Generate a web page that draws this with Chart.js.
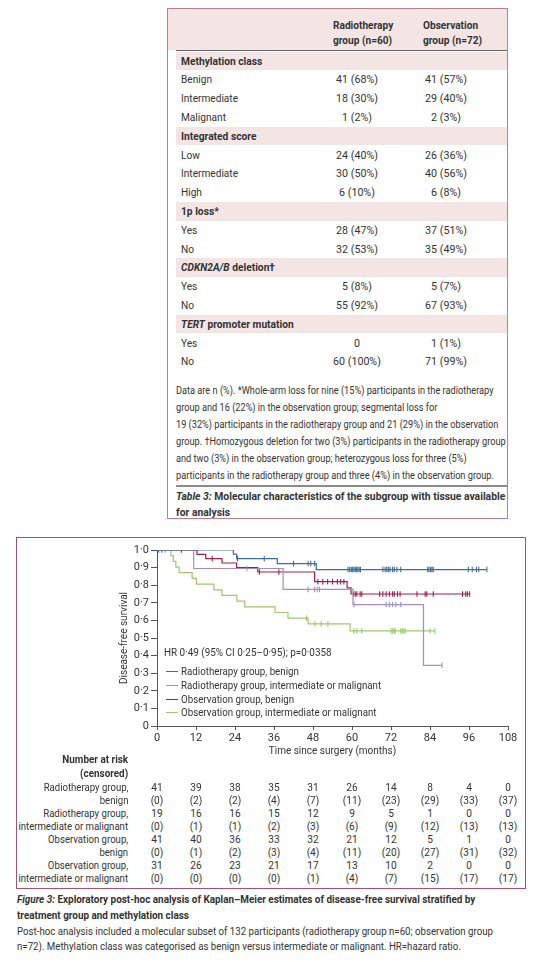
<!DOCTYPE html>
<html>
<head>
<meta charset="utf-8">
<script src="https://cdn.jsdelivr.net/npm/chart.js@4.4.1/dist/chart.umd.min.js"></script>
<style>
  body { margin: 0; background: #fff; }
  #page { position: relative; width: 539px; height: 962px; overflow: hidden;
    font-family: 'Roboto', 'Liberation Sans', sans-serif; color: #333; }
  .abs { position: absolute; white-space: nowrap; }
  .box1 { position: absolute; left: 167px; top: 8px; width: 341px; height: 511px; border: 1px solid #c27c8c; box-sizing: border-box; }
  .box2 { position: absolute; left: 16px; top: 537px; width: 510px; height: 352px; border: 1px solid #a8506c; box-sizing: border-box; }
  .band { position: absolute; background: #f4e5e5; }
  .t11 { font-size: 11px; line-height: 13px; }
  .b { font-weight: bold; }
  .foot { font-size: 10px; line-height: 17px; }
  #chartWrap { position: absolute; left: 16px; top: 537px; width: 509px; height: 225px; }
</style>
</head>
<body>
<div id="page">
  <div class="box1"></div>
  <div class="box2"></div>
  <div id="chartWrap"><canvas id="kmChart" width="509" height="225"></canvas></div>
</div>
<script>
// ---------- table 3 data ----------
const sectionTitles = ['Methylation class', 'Integrated score', '1p loss*', '<i>CDKN2A/B</i> deletion†', '<i>TERT</i> promoter mutation'];
const rowLabels = [['Benign', 'Intermediate', 'Malignant'], ['Low', 'Intermediate', 'High'], ['Yes', 'No'], ['Yes', 'No'], ['Yes', 'No']];
const radioCounts = [['41 (68%)', '18 (30%)', '1 (2%)'], ['24 (40%)', '30 (50%)', '6 (10%)'], ['28 (47%)', '32 (53%)'], ['5 (8%)', '55 (92%)'], ['0', '60 (100%)']];
const obsCounts = [['41 (57%)', '29 (40%)', '2 (3%)'], ['26 (36%)', '40 (56%)', '6 (8%)'], ['37 (51%)', '35 (49%)'], ['5 (7%)', '67 (93%)'], ['1 (1%)', '71 (99%)']];
const footLines = [
  'Data are n (%). *Whole-arm loss for nine (15%) participants in the radiotherapy',
  'group and 16 (22%) in the observation group; segmental loss for',
  '19 (32%) participants in the radiotherapy group and 21 (29%) in the observation',
  'group. †Homozygous deletion for two (3%) participants in the radiotherapy group',
  'and two (3%) in the observation group; heterozygous loss for three (5%)',
  'participants in the radiotherapy group and three (4%) in the observation group.'
];

// ---------- figure 3 data ----------
const xTickValues = [0, 12, 24, 36, 48, 60, 72, 84, 96, 108];
const xTickLabels = ['0', '12', '24', '36', '48', '60', '72', '84', '96', '108'];
const yTickValues = [0, 0.1, 0.2, 0.3, 0.4, 0.5, 0.6, 0.7, 0.8, 0.9, 1];
const yTickLabels = ['0', '0·1', '0·2', '0·3', '0·4', '0·5', '0·6', '0·7', '0·8', '0·9', '1·0'];

const groupNames = ['Radiotherapy group, benign', 'Radiotherapy group, intermediate or malignant',
  'Observation group, benign', 'Observation group, intermediate or malignant'];
const groupRowLabels = [['Radiotherapy group,', 'benign'], ['Radiotherapy group,', 'intermediate or malignant'],
  ['Observation group,', 'benign'], ['Observation group,', 'intermediate or malignant']];
const groupColors = ['#3e6d99', '#a08fc0', '#9e1f4b', '#9fc76c'];

// Kaplan-Meier steps (months, survival after step) and censoring times
const rtBenignTime = [0, 23.5, 24.5, 37, 49, 101.5];
const rtBenignSurv = [1, 0.976, 0.951, 0.923, 0.889, 0.889];
const rtBenignCensored = [0.5, 1.5, 24.8, 33, 42, 46.5, 47.3, 48.5, 58.8, 59.3, 59.8, 60.2, 60.6, 61, 61.4, 61.8, 62.2, 62.6,
  69.5, 70.2, 70.7, 71.2, 71.7, 72.5, 73, 73.8, 75, 83.3, 83.7, 84.2, 84.6, 85, 95.8, 97, 98.3, 99, 101.5];

const rtIntTime = [0, 11.3, 38.8, 60.3, 82, 87.7];
const rtIntSurv = [1, 0.895, 0.776, 0.69, 0.345, 0.345];
const rtIntCensored = [2.5, 27.7, 46.5, 48.5, 49.3, 50, 60.6, 70.5, 71.5, 72.5, 73.5, 75, 87.7];

const obBenignTime = [0, 12.3, 15, 20, 24.5, 31, 48.5, 58.5, 59.7, 96.2];
const obBenignSurv = [1, 0.975, 0.951, 0.926, 0.9, 0.875, 0.82, 0.785, 0.75, 0.75];
const obBenignCensored = [7.5, 17, 31.5, 37.5, 49.5, 51, 52.5, 54, 55.5, 56.5, 57.5, 60.5, 61, 61.5, 62.5, 63, 68.5, 69.5,
  70.5, 71.5, 72.5, 73, 74, 74.8, 80, 82.5, 83, 85, 94, 95, 95.5, 96.2];

const obIntTime = [0, 4.3, 5, 5.8, 6.8, 10.8, 12.1, 17.5, 20, 24.6, 27, 36.3, 40.3, 46.5, 59.4, 85.5];
const obIntSurv = [1, 0.968, 0.935, 0.903, 0.871, 0.839, 0.806, 0.774, 0.742, 0.71, 0.677, 0.645, 0.613, 0.58, 0.54, 0.54];
const obIntCensored = [46, 48.6, 50.5, 52.6, 60.6, 61.5, 63, 72, 72.5, 73, 73.3, 75, 75.5, 76, 76.3, 84, 85.5];

const atRisk = [
  [41, 39, 38, 35, 31, 26, 14, 8, 4, 0],
  [19, 16, 16, 15, 12, 9, 5, 1, 0, 0],
  [41, 40, 36, 33, 32, 21, 12, 5, 1, 0],
  [31, 26, 23, 21, 17, 13, 10, 2, 0, 0]
];
const censoredCounts = [
  [0, 2, 2, 4, 7, 11, 23, 29, 33, 37],
  [0, 1, 1, 2, 3, 6, 9, 12, 13, 13],
  [0, 1, 2, 3, 4, 11, 20, 27, 31, 32],
  [0, 0, 0, 0, 1, 4, 7, 15, 17, 17]
];

const page = document.getElementById('page');
// sx narrows the text (the original face is condensed); anchor: 'left', 'right' or 'center'
function addDiv(cls, html, style, sx, anchor) {
  const d = document.createElement('div');
  d.className = cls;
  d.innerHTML = html;
  Object.assign(d.style, style);
  if (sx) {
    anchor = anchor || 'left';
    d.style.transformOrigin = anchor === 'center' ? 'center' : anchor;
    d.style.transform = (anchor === 'center' ? 'translateX(-50%) ' : '') + 'scaleX(' + sx + ')';
  }
  page.appendChild(d);
  return d;
}

// ---------- table 3 ----------
addDiv('band', '', {left: '168px', top: '9px', width: '339px', height: '41px'});
addDiv('abs t11 b', 'Radiotherapy<br>group (n=60)', {left: '333px', top: '18px', lineHeight: '15px'}, 0.92);
addDiv('abs t11 b', 'Observation<br>group (n=72)', {left: '423px', top: '18px', lineHeight: '15px'}, 0.92);
addDiv('abs', '', {left: '176px', top: '50px', width: '331px', height: '1px', background: '#666'});

let y = 51.5;
const rowH = 18.8;
sectionTitles.forEach((title, s) => {
  addDiv('band', '', {left: '176px', top: y + 'px', width: '331px', height: rowH + 'px'});
  addDiv('abs t11 b', title, {left: '181px', top: (y + 3) + 'px'}, 0.93);
  y += rowH;
  rowLabels[s].forEach((lab, r) => {
    addDiv('abs t11', lab, {left: '181px', top: (y + 3) + 'px'}, 0.92);
    addDiv('abs t11', radioCounts[s][r], {left: '357px', top: (y + 3) + 'px'}, 0.97, 'center');
    addDiv('abs t11', obsCounts[s][r], {left: '446px', top: (y + 3) + 'px'}, 0.97, 'center');
    y += rowH;
  });
});
addDiv('abs foot', footLines.join('<br>'), {left: '176px', top: '382px'}, 0.92);
addDiv('abs', '', {left: '176px', top: '485px', width: '331px', height: '2px', background: '#8a8a8a'});
addDiv('abs t11 b', '<i>Table 3:</i> Molecular characteristics of the subgroup with tissue available<br>for analysis',
  {left: '176px', top: '489px', lineHeight: '16px'}, 0.94);

// ---------- figure 3 ----------
function steps(t, s) { return t.map((v, i) => ({x: v, y: s[i]})); }
function survAt(t, s, time) {
  let v = s[0];
  for (let i = 0; i < t.length; i++) if (t[i] <= time) v = s[i];
  return v;
}
function marks(t, s, c) { return c.map(v => ({x: v, y: survAt(t, s, v)})); }

const curves = [
  [rtBenignTime, rtBenignSurv, rtBenignCensored],
  [rtIntTime, rtIntSurv, rtIntCensored],
  [obBenignTime, obBenignSurv, obBenignCensored],
  [obIntTime, obIntSurv, obIntCensored]
];
const datasets = [];
curves.forEach((c, g) => {
  datasets.push({
    label: groupNames[g], data: steps(c[0], c[1]), stepped: true,
    borderColor: groupColors[g], borderWidth: 1.2, pointRadius: 0, fill: false
  });
  datasets.push({
    label: groupNames[g] + ' censored', data: marks(c[0], c[1], c[2]), showLine: false,
    pointStyle: 'line', rotation: 90, pointRadius: 2.8, borderColor: groupColors[g],
    backgroundColor: groupColors[g], pointBorderWidth: 1.1
  });
});

Chart.defaults.font.family = "'Roboto', 'Liberation Sans', sans-serif";
Chart.defaults.color = '#333';

const kmChart = new Chart(document.getElementById('kmChart'), {
  type: 'line',
  data: {datasets: datasets},
  options: {
    responsive: false,
    animation: false,
    devicePixelRatio: 1,
    layout: {padding: {top: 13, right: 17, left: 0, bottom: 0}},
    plugins: {legend: {display: false}, tooltip: {enabled: false}},
    scales: {
      x: {
        type: 'linear', min: 0, max: 108,
        afterBuildTicks: s => { s.ticks = xTickValues.map(v => ({value: v})); },
        afterFit: s => { s.height = 36; },
        ticks: {callback: (v, i) => xTickLabels[i], font: {size: 11}, padding: 2, maxRotation: 0, autoSkip: false},
        grid: {display: true, drawOnChartArea: false, drawTicks: true, tickLength: 4, color: '#555'},
        border: {display: true, color: '#555', width: 1},
        title: {display: true, text: 'Time since surgery (months)', font: {size: 10}, padding: {top: 0, bottom: 5}}
      },
      y: {
        min: 0, max: 1,
        afterBuildTicks: s => { s.ticks = yTickValues.map(v => ({value: v})); },
        afterFit: s => { s.width = 141; },
        ticks: {callback: (v, i) => yTickLabels[i], font: {size: 11}, padding: 2},
        grid: {display: true, drawOnChartArea: false, drawTicks: true, tickLength: 6, color: '#555'},
        border: {display: true, color: '#555', width: 1},
        title: {display: true, text: 'Disease-free survival', font: {size: 10}, padding: {top: 102, bottom: 0}}
      }
    }
  }
});

// legend and HR inside the plot
addDiv('abs t11', 'HR 0·49 (95% CI 0·25–0·95); p=0·0358', {left: '164px', top: '646px'}, 0.9);
const legendTops = [665, 679, 693, 706];
groupNames.forEach((name, g) => {
  addDiv('abs', '', {left: '166px', top: (legendTops[g] + 6) + 'px', width: '12px', height: '1.2px', background: groupColors[g]});
  addDiv('abs t11', name, {left: '181px', top: legendTops[g] + 'px'}, 0.885);
});

// number at risk table, columns placed with the chart's x scale
const xs = kmChart.scales.x;
const chartLeft = 16;
addDiv('abs t11 b', 'Number at risk<br>(censored)', {right: (539 - 128) + 'px', top: '753px', textAlign: 'right', lineHeight: '14px'}, 0.9, 'right');
const rowTops = [781, 807, 833, 859];
groupRowLabels.forEach((labs, g) => {
  addDiv('abs t11', labs.join('<br>'), {right: (539 - 128) + 'px', top: rowTops[g] + 'px', textAlign: 'right'}, 0.87, 'right');
  xTickValues.forEach((m, i) => {
    const px = chartLeft + xs.getPixelForValue(m);
    addDiv('abs t11', atRisk[g][i] + '<br>(' + censoredCounts[g][i] + ')',
      {left: px + 'px', top: rowTops[g] + 'px', textAlign: 'center'}, 0.92, 'center');
  });
});

// figure caption
addDiv('abs t11 b', '<i>Figure 3:</i> Exploratory post-hoc analysis of Kaplan–Meier estimates of disease-free survival stratified by<br>treatment group and methylation class',
  {left: '17px', top: '892px', lineHeight: '16px'}, 0.9);
addDiv('abs t11', 'Post-hoc analysis included a molecular subset of 132 participants (radiotherapy group n=60; observation group<br>n=72). Methylation class was categorised as benign versus intermediate or malignant. HR=hazard ratio.',
  {left: '17px', top: '924px', lineHeight: '15px'}, 0.88);
</script>
</body>
</html>
